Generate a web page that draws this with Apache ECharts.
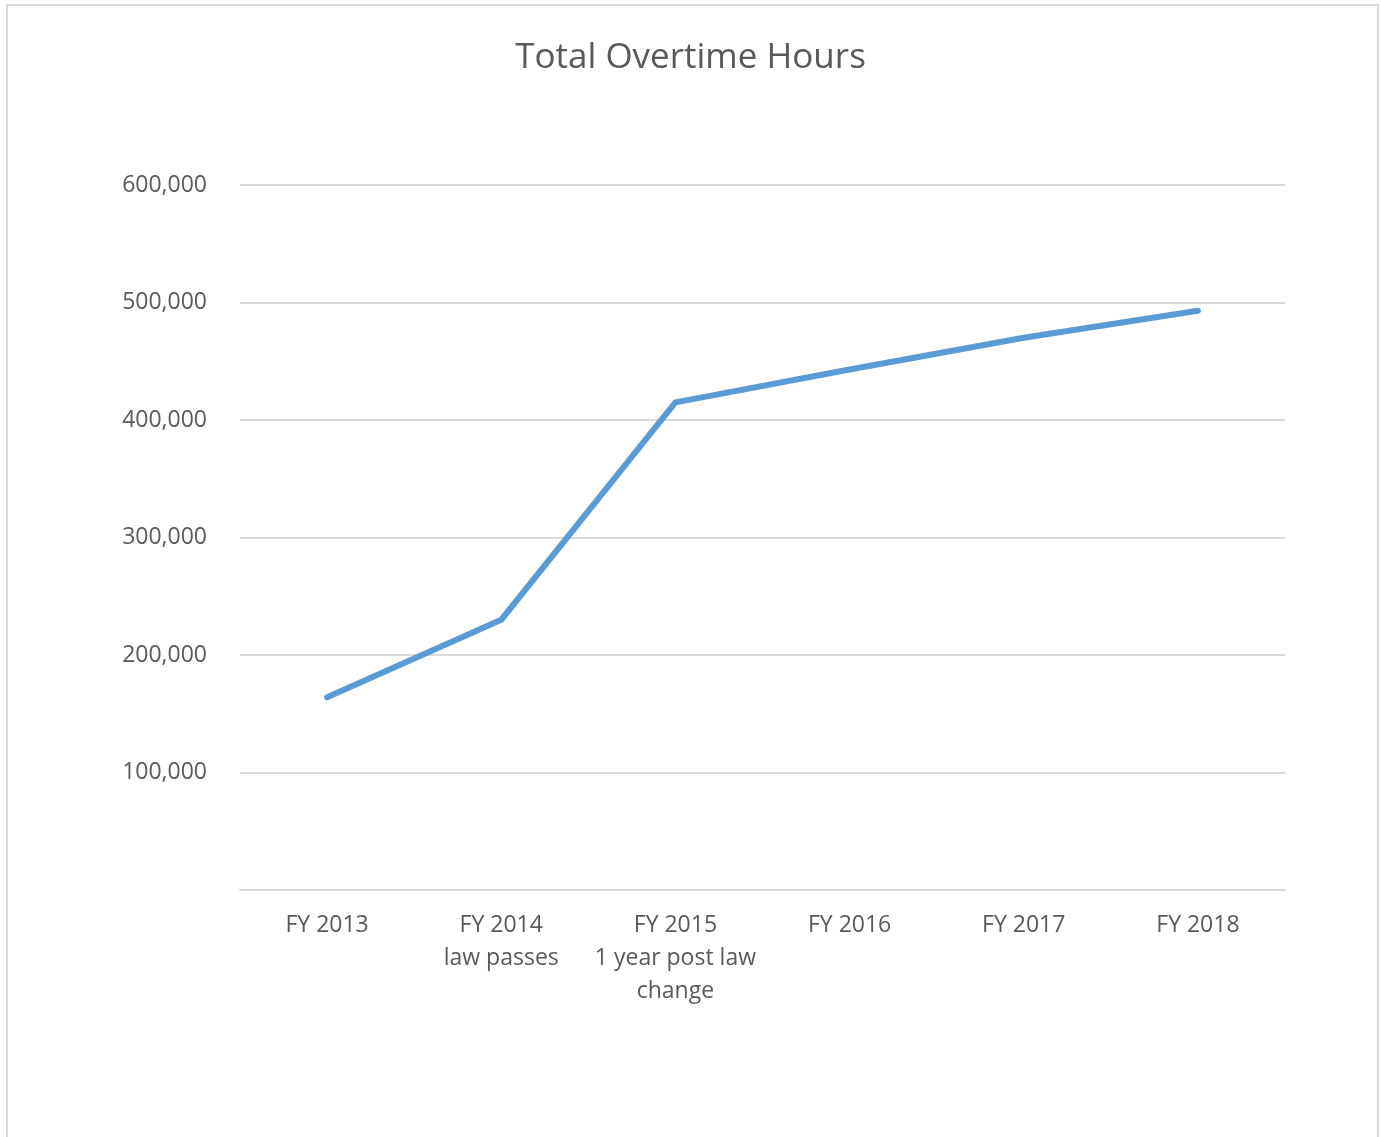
<!DOCTYPE html>
<html>
<head>
<meta charset="utf-8">
<script src="https://cdn.jsdelivr.net/npm/echarts@6/dist/echarts.min.js"></script>
<style>
  html, body { margin: 0; padding: 0; background: #fff; }
  #chart { position: absolute; left: 0; top: 0; width: 1381px; height: 1137px; }
  #frame { position: absolute; left: 6px; top: 4px; width: 1369px; height: 1140px;
           border: 2px solid #d9d9d9; border-bottom: none; pointer-events: none; }
</style>
</head>
<body>
<div id="chart"></div>
<div id="frame"></div>
<script>
const categories = ['FY 2013', 'FY 2014\nlaw passes', 'FY 2015\n1 year post law\nchange', 'FY 2016', 'FY 2017', 'FY 2018'];
const overtimeHours = [164000, 230000, 415000, 443000, 470000, 493000];
const yTicks = [0, 100000, 200000, 300000, 400000, 500000, 600000];

const chart = echarts.init(document.getElementById('chart'));
const textColor = '#595959';
const fontFamily = '"Open Sans", "Liberation Sans", sans-serif';

chart.setOption({
  backgroundColor: 'transparent',
  animation: false,
  title: {
    text: 'Total Overtime Hours',
    left: 'center',
    top: 36,
    textStyle: { color: textColor, fontSize: 35, fontWeight: 'normal', fontFamily: fontFamily }
  },
  grid: { left: 240, right: 96, top: 185, bottom: 247 },
  xAxis: {
    type: 'category',
    data: categories,
    boundaryGap: true,
    axisLine: { show: true, lineStyle: { color: '#d9d9d9', width: 2 } },
    axisTick: { show: false },
    axisLabel: {
      color: textColor, fontSize: 23, fontFamily: fontFamily,
      lineHeight: 33, margin: 19, interval: 0, align: 'center'
    }
  },
  yAxis: {
    type: 'value',
    min: yTicks[0],
    max: yTicks[yTicks.length - 1],
    interval: yTicks[1] - yTicks[0],
    axisLine: { show: false },
    axisTick: { show: false },
    splitLine: { lineStyle: { color: '#d9d9d9', width: 2 } },
    axisLabel: {
      color: textColor, fontSize: 23, fontFamily: fontFamily, margin: 33,
      formatter: function (v) { return v === 0 ? '' : v.toLocaleString('en-US'); }
    }
  },
  series: [{
    type: 'line',
    data: overtimeHours,
    showSymbol: false,
    symbol: 'none',
    lineStyle: { color: '#5b9bd5', width: 6, cap: 'round', join: 'round' },
    itemStyle: { color: '#5b9bd5' }
  }]
});
</script>
</body>
</html>
